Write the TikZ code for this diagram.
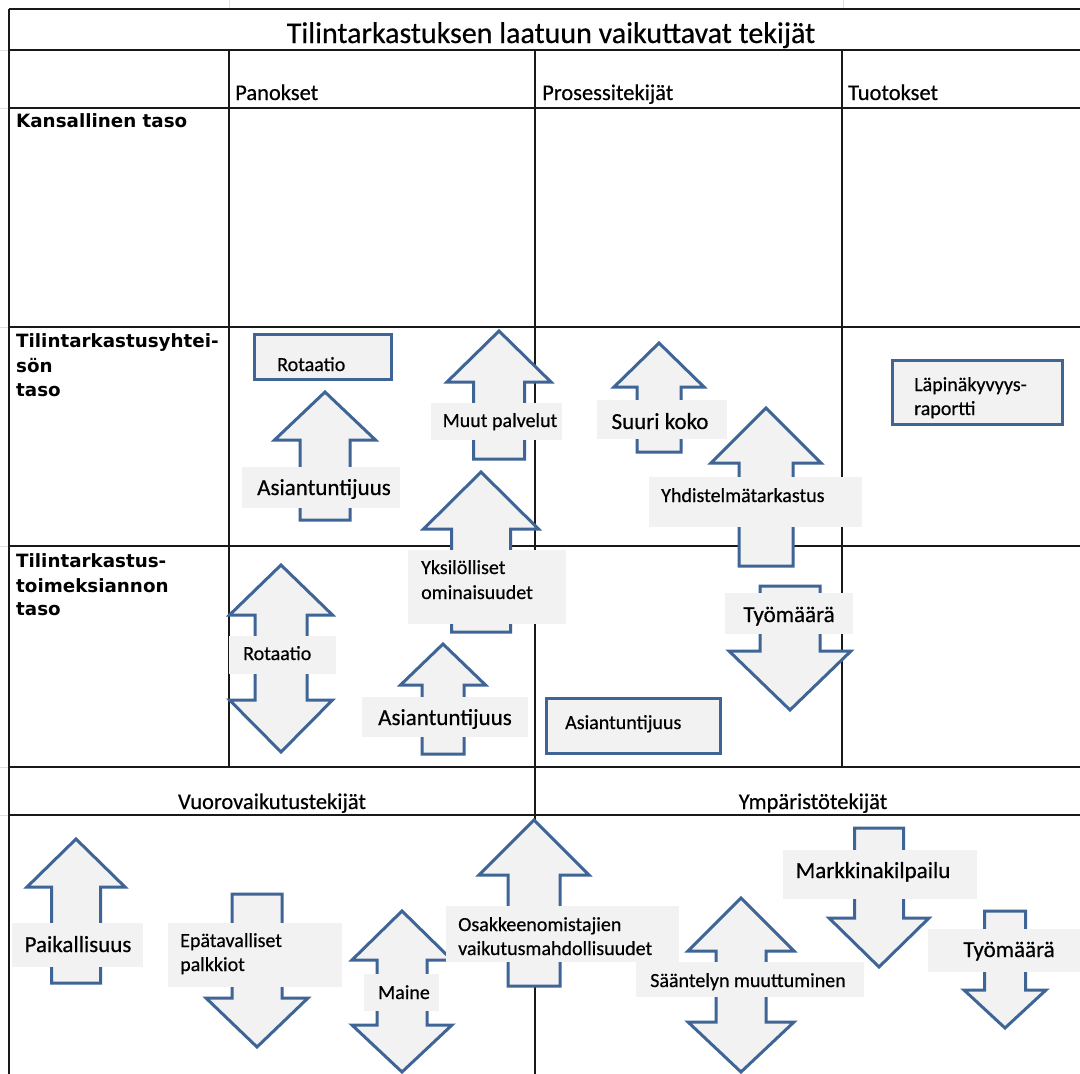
\documentclass[tikz,border=0pt]{standalone}
\usepackage{fontspec}
\setmainfont{Carlito}[FakeBold=0.5]
\newfontfamily\rowfont{DejaVu Sans}
\definecolor{arrblue}{RGB}{62,101,150}
\definecolor{lblgray}{RGB}{242,242,242}
\newcommand{\uparrowshape}[6]{% cx, tip y, head base y, half head, half shaft, bottom y
  \draw[arrowshape] (#1,#2) -- ({#1+#4},#3) -- ({#1+#5},#3) -- ({#1+#5},#6) -- ({#1-#5},#6) -- ({#1-#5},#3) -- ({#1-#4},#3) -- cycle;}
\newcommand{\downarrowshape}[6]{% cx, shaft top y, half shaft, head base y, half head, tip y
  \draw[arrowshape] ({#1-#3},#2) -- ({#1+#3},#2) -- ({#1+#3},#4) -- ({#1+#5},#4) -- (#1,#6) -- ({#1-#5},#4) -- ({#1-#3},#4) -- cycle;}
\newcommand{\dblarrowshape}[7]{% cx, top tip, top head base, bottom head base, bottom tip, half head, half shaft
  \draw[arrowshape] (#1,#2) -- ({#1+#6},#3) -- ({#1+#7},#3) -- ({#1+#7},#4) -- ({#1+#6},#4) -- (#1,#5) -- ({#1-#6},#4) -- ({#1-#7},#4) -- ({#1-#7},#3) -- ({#1-#6},#3) -- cycle;}
\tikzset{
  gridline/.style={line width=1.7pt, black!90},
  faint/.style={line width=1pt, black!12},
  arrowshape/.style={draw=arrblue, fill=lblgray, line width=3pt, line join=miter},
  outbox/.style={draw=arrblue, fill=lblgray, line width=3pt},
  lblbox/.style={fill=lblgray},
  txt/.style={inner sep=0pt, font=\fontsize{20}{25}\selectfont},
  bigtxt/.style={inner sep=0pt, font=\fontsize{23}{28}\selectfont},
  hdr/.style={inner sep=0pt, font=\fontsize{22.5}{28}\selectfont},
  titletxt/.style={inner sep=0pt, font=\fontsize{30}{36}\selectfont},
  rowlbl/.style={inner sep=0pt, font=\rowfont\bfseries\fontsize{18.3}{25}\selectfont},
}
\begin{document}
\begin{tikzpicture}[x=1pt,y=-1pt]
\useasboundingbox (0,0) rectangle (1080,1074);
\fill[white] (0,0) rectangle (1080,1074);
% faint spreadsheet gridlines
\draw[faint] (229,0) -- (229,9);
\draw[faint] (843,0) -- (843,9);
\foreach \yy in {50,108,327,546,767,815} \draw[faint] (0,\yy) -- (9,\yy);
% table grid
\foreach \yy in {9,50,108,327,546,767,815} \draw[gridline] (9,\yy) -- (1080,\yy);
\draw[gridline] (9,9) -- (9,1074);
\draw[gridline] (229,50) -- (229,767);
\draw[gridline] (535,50) -- (535,1074);
\draw[gridline] (842,50) -- (842,767);

% headings
\node[titletxt, anchor=base] (title) at (551,43) {Tilintarkastuksen laatuun vaikuttavat tekijät};
\node[hdr, anchor=base west] (panokset) at (235,100) {Panokset};
\node[hdr, anchor=base west] (prosessi) at (542,100) {Prosessitekijät};
\node[hdr, anchor=base west] (tuotokset) at (848,100) {Tuotokset};
\node[rowlbl, anchor=base west] (kans) at (16,127) {Kansallinen taso};
\node[rowlbl, anchor=base west] (yht1) at (16,347) {Tilintarkastusyhtei-};
\node[rowlbl, anchor=base west] (yht2) at (16,372) {sön};
\node[rowlbl, anchor=base west] (yht3) at (16,396) {taso};
\node[rowlbl, anchor=base west] (toim1) at (16,567) {Tilintarkastus-};
\node[rowlbl, anchor=base west] (toim2) at (16,592) {toimeksiannon};
\node[rowlbl, anchor=base west] (toim3) at (16,615) {taso};
\node[hdr, anchor=base] (vuoro) at (272,809) {Vuorovaikutustekijät};
\node[hdr, anchor=base] (ymp) at (813,809) {Ympäristötekijät};

% ---- audit firm level ----
\draw[outbox] (254,334) rectangle (391,379);
\node[txt, anchor=base west] (rot1) at (277,371) {Rotaatio};

\uparrowshape{325}{392}{440}{50.5}{25}{520}
\fill[lblbox] (242,467) rectangle (400,508);
\node[bigtxt, anchor=base] (asi1) at (324,495) {Asiantuntijuus};

\uparrowshape{499}{331}{382}{52}{25.5}{459}
\fill[lblbox] (431,403) rectangle (562,440);
\node[txt, anchor=base] (muut) at (500,427) {Muut palvelut};

\uparrowshape{481}{472}{529}{57.5}{29.5}{632}
\fill[lblbox] (408,550) rectangle (566,624);
\node[txt, anchor=base west] (yks1) at (421,574) {Yksilölliset};
\node[txt, anchor=base west] (yks2) at (421,599) {ominaisuudet};

\uparrowshape{659}{343}{387}{45}{22}{452}
\fill[lblbox] (597,400) rectangle (727,439);
\node[bigtxt, anchor=base] (suuri) at (660,429) {Suuri koko};

\uparrowshape{766}{408}{463}{55}{27}{566}
\fill[lblbox] (649,477) rectangle (862,527);
\node[txt, anchor=base west] (yhd) at (661,502) {Yhdistelmätarkastus};

\draw[outbox] (892,360) rectangle (1062,424);
\node[txt, anchor=base west] (lap1) at (914,391) {Läpinäkyvyys-};
\node[txt, anchor=base west] (lap2) at (914,415) {raportti};

% ---- engagement level ----
\dblarrowshape{281}{565}{615}{700}{752}{51.5}{26}
\fill[lblbox] (229,636) rectangle (336,674);
\node[txt, anchor=base west] (rot2) at (243,660) {Rotaatio};

\uparrowshape{443}{644}{685}{42.5}{21}{754}
\fill[lblbox] (362,697) rectangle (528,737);
\node[bigtxt, anchor=base] (asi2) at (445,725) {Asiantuntijuus};

\draw[outbox] (546,698) rectangle (720,753);
\node[txt, anchor=base west] (asi3) at (565,729) {Asiantuntijuus};

\downarrowshape{790}{586}{30}{651}{61}{710}
\fill[lblbox] (725,593) rectangle (853,634);
\node[bigtxt, anchor=base] (tyo1) at (789,622) {Työmäärä};

% ---- interaction factors ----
\uparrowshape{76}{839}{887}{49}{24.5}{983}
\fill[lblbox] (12,923) rectangle (143,967);
\node[bigtxt, anchor=base] (paik) at (78,952) {Paikallisuus};

\downarrowshape{257}{894}{25}{998}{51}{1047}
\fill[lblbox] (168,923) rectangle (342,987);
\node[txt, anchor=base west] (epa1) at (180,947) {Epätavalliset};
\node[txt, anchor=base west] (epa2) at (180,971) {palkkiot};

\dblarrowshape{402}{911}{960}{1025}{1072}{50}{25}
\fill[lblbox] (364,974) rectangle (439,1011);
\node[txt, anchor=base] (maine) at (404,999) {Maine};

\uparrowshape{534}{820}{875}{55}{26}{986}
\fill[lblbox] (446,906) rectangle (679,962);
\node[txt, anchor=base west] (osa1) at (458,931) {Osakkeenomistajien};
\node[txt, anchor=base west] (osa2) at (458,955) {vaikutusmahdollisuudet};

% ---- environmental factors ----
\dblarrowshape{741}{898}{951}{1022}{1072}{53}{25}
\fill[lblbox] (636,962) rectangle (864,997);
\node[txt, anchor=base] (saan) at (748,987) {Sääntelyn muuttuminen};

\downarrowshape{879}{828}{24.5}{918}{50}{967}
\fill[lblbox] (783,850) rectangle (977,899);
\node[bigtxt, anchor=base] (mark) at (873,878) {Markkinakilpailu};

\downarrowshape{1005}{911}{20.5}{990}{41}{1028}
\fill[lblbox] (928,929) rectangle (1080,972);
\node[bigtxt, anchor=base] (tyo2) at (1009,957) {Työmäärä};
\end{tikzpicture}
\end{document}
